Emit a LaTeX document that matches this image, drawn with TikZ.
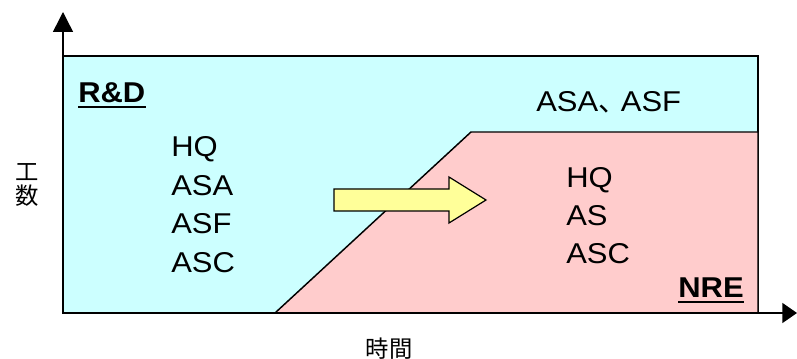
\documentclass[tikz,border=0pt]{standalone}
\usepackage{fontspec}
\setmainfont{Liberation Sans}
\newfontfamily\labelfont[FakeStretch=1.08]{Liberation Sans}
\newfontfamily\jpfont{Noto Sans CJK JP}
\usetikzlibrary{arrows.meta}

\definecolor{rdcyan}{HTML}{CCFFFF}
\definecolor{nrepink}{HTML}{FFCCCC}
\definecolor{shiftyellow}{HTML}{FFFF99}

\begin{document}
\begin{tikzpicture}[x=0.75pt,y=-0.75pt]
   \tikzset{AreaStyle/.style={draw=black, line width=1.1pt, line join=miter}}
   \tikzset{LabelStyle/.style={font=\fontsize{21.5}{26}\selectfont\labelfont, inner sep=0pt, anchor=base west}}
   \tikzset{TitleStyle/.style={LabelStyle, font=\fontsize{21.5}{26}\selectfont\labelfont\bfseries}}
   \tikzset{AxisStyle/.style={line width=1.1pt}}
   \tikzset{JpStyle/.style={font=\fontsize{17.5}{18}\selectfont\jpfont, inner sep=0pt, align=center}}
   \useasboundingbox (0,0) rectangle (797,359);
   % R&D and NRE areas
   \draw[AreaStyle, fill=rdcyan] (63,56) rectangle (758,313);
   \draw[AreaStyle, fill=nrepink] (275,313) -- (471,132) -- (758,132) -- (758,313) -- cycle;
   % shift arrow
   \draw[AreaStyle, line width=0.9pt, fill=shiftyellow] (334,189) -- (449,189) -- (449,177) -- (486,200)
      -- (449,223) -- (449,211) -- (334,211) -- cycle;
   % axes
   \coordinate (O) at (63,313);
   \coordinate (ytop) at (63,12);
   \coordinate (xend) at (797,313);
   \draw[AxisStyle, -{Triangle[length=15pt,width=15pt]}] (O) -- (ytop);
   \draw[AxisStyle, -{Triangle[length=11pt,width=15pt]}] (O) -- (xend);
   \node[JpStyle] (kosu) at (27.5,185) {工\\数};
   \node[JpStyle] (jikan) at (389,349) {時間};
   % R&D side
   \node[TitleStyle] (rd) at (78,103) {R\&D};
   \draw[line width=1.5pt] ([yshift=-3pt]rd.base west) -- ([yshift=-3pt]rd.base east);
   \node[LabelStyle] (hq1) at (171,157) {HQ};
   \node[LabelStyle] (asa1) at (171,195.5) {ASA};
   \node[LabelStyle] (asf1) at (171,234) {ASF};
   \node[LabelStyle] (asc1) at (171,272.5) {ASC};
   % NRE side
   \node[LabelStyle] (asaf) at (536,112) {ASA{\jpfont 、}\kern-4.5pt ASF};
   \node[LabelStyle] (hq2) at (566,188) {HQ};
   \node[LabelStyle] (as2) at (566,226) {AS};
   \node[LabelStyle] (asc2) at (566,264) {ASC};
   \node[TitleStyle, anchor=base east] (nre) at (744,298) {NRE};
   \draw[line width=1.5pt] ([yshift=-3pt]nre.base west) -- ([yshift=-3pt]nre.base east);
\end{tikzpicture}
\end{document}
